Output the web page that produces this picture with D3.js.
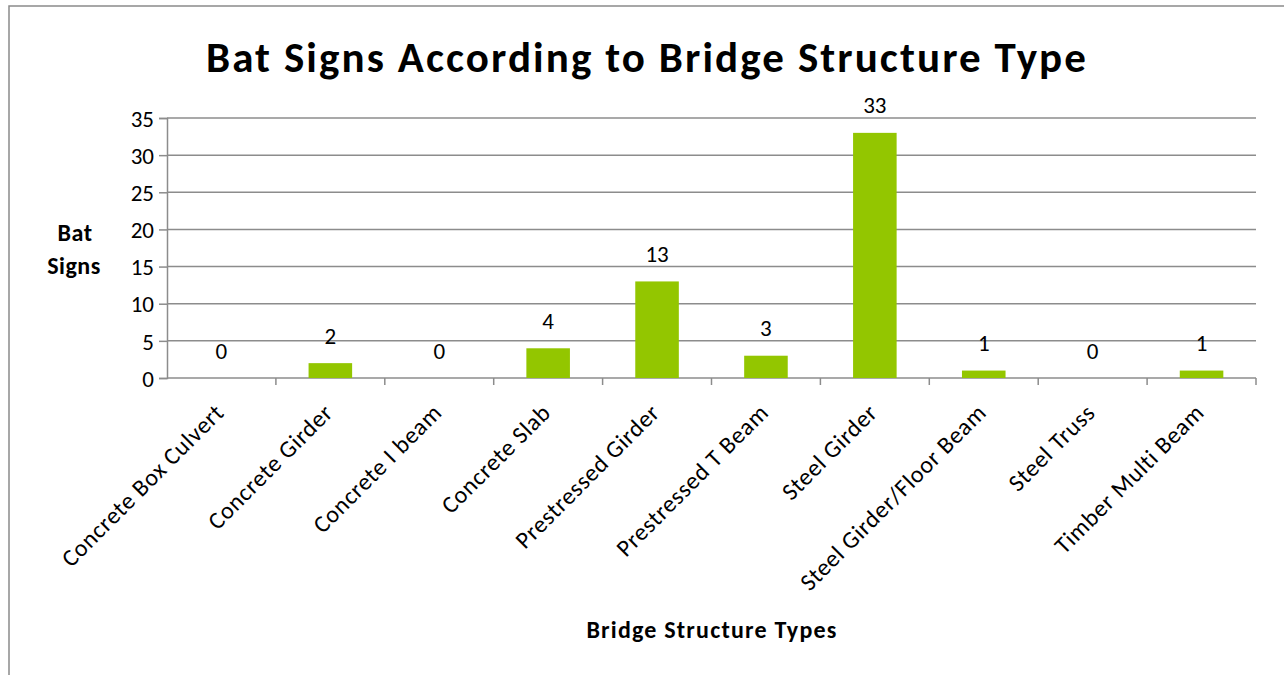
<!DOCTYPE html>
<html>
<head>
<meta charset="utf-8">
<script src="https://cdn.jsdelivr.net/npm/d3@7"></script>
<style>
  body { margin: 0; background: #fff; }
  text { font-family: Carlito, Lato, "Open Sans", sans-serif; fill: #000; }
</style>
</head>
<body>
<div class="chart-wrapper"></div>
<script>
const categories = ['Concrete Box Culvert', 'Concrete Girder', 'Concrete I beam', 'Concrete Slab',
  'Prestressed Girder', 'Prestressed T Beam', 'Steel Girder', 'Steel Girder/Floor Beam',
  'Steel Truss', 'Timber Multi Beam']
const batSigns = [0, 2, 0, 4, 13, 3, 33, 1, 0, 1]
const yTicks = [0, 5, 10, 15, 20, 25, 30, 35]

const width = 1284
const height = 675
const margin = {top: 118, right: 28, bottom: 297, left: 167}

const svg = d3.select('.chart-wrapper')
.append('svg')
.attr('width', width)
.attr('height', height)

// stretch a text to a given width with letter-spacing (Calibri is wider than Lato)
const fitWidth = (sel, target) => {
	const node = sel.node()
	const len = node.getComputedTextLength()
	const n = node.textContent.length
	if (n > 1) sel.attr('letter-spacing', (target - len) / (n - 1))
}

// chart frame
svg.append('rect')
.attr('x', 9)
.attr('y', 6)
.attr('width', width + 20)
.attr('height', height + 20)
.attr('fill', 'none')
.attr('stroke', '#8a8a8a')
.attr('stroke-width', 1.5)

const x = d3.scaleBand()
.domain(categories)
.range([margin.left, width - margin.right])
.paddingInner(0.6)
.paddingOuter(0.3)

const xCat = d3.scaleBand()
.domain(categories)
.range([margin.left, width - margin.right])

const y = d3.scaleLinear()
.domain([0, 35])
.range([height - margin.bottom, margin.top])

const grey = '#8c8c8c'

// gridlines
svg.append('g')
.selectAll('line')
.data(yTicks.filter(d => d > 0))
.enter()
.append('line')
.attr('x1', margin.left)
.attr('x2', width - margin.right)
.attr('y1', d => y(d))
.attr('y2', d => y(d))
.attr('stroke', grey)
.attr('stroke-width', 1.5)

// y axis
const yAxis = svg.append('g')
.attr('transform', `translate(${margin.left},0)`)
.call(d3.axisLeft(y).tickValues(yTicks).tickSize(8).tickPadding(5))

yAxis.select('.domain').attr('stroke', grey).attr('stroke-width', 1.5)
yAxis.selectAll('.tick line').attr('stroke', grey).attr('stroke-width', 1.5)
yAxis.selectAll('.tick text')
.attr('font-size', 23)
.attr('font-family', 'Lato, sans-serif')
.attr('fill', '#000')
.attr('dy', '0.36em')

// x axis (ticks between categories)
const x0 = y(0)
svg.append('line')
.attr('x1', margin.left)
.attr('x2', width - margin.right)
.attr('y1', x0)
.attr('y2', x0)
.attr('stroke', grey)
.attr('stroke-width', 1.5)

svg.append('g')
.selectAll('line')
.data(categories)
.enter()
.append('line')
.attr('x1', d => xCat(d) + xCat.bandwidth())
.attr('x2', d => xCat(d) + xCat.bandwidth())
.attr('y1', x0)
.attr('y2', x0 + 7)
.attr('stroke', grey)
.attr('stroke-width', 1.5)

svg.append('g')
.selectAll('text')
.data(categories)
.enter()
.append('text')
.attr('transform', d => `translate(${xCat(d) + xCat.bandwidth() / 2 + 4},${x0 + 36}) rotate(-45)`)
.attr('text-anchor', 'end')
.attr('font-size', 24)
.attr('letter-spacing', 0.7)
.text(d => d)

// bars
svg.append('g')
.selectAll('rect')
.data(batSigns)
.enter()
.append('rect')
.attr('x', (d, i) => x(categories[i]))
.attr('y', d => y(d))
.attr('width', x.bandwidth())
.attr('height', d => y(0) - y(d))
.attr('fill', '#93c600')

// value labels
svg.append('g')
.selectAll('text')
.data(batSigns)
.enter()
.append('text')
.attr('x', (d, i) => xCat(categories[i]) + xCat.bandwidth() / 2)
.attr('y', d => y(d) - 19.5)
.attr('text-anchor', 'middle')
.attr('font-size', 23)
.text(d => d)

// titles
const title = svg.append('text')
.attr('x', 647)
.attr('y', 72)
.attr('text-anchor', 'middle')
.attr('font-size', 43)
.attr('font-weight', 'bold')
.text('Bat Signs According to Bridge Structure Type')
fitWidth(title, 880)

const yTitle = svg.append('text')
.attr('text-anchor', 'middle')
.attr('font-size', 24)
.attr('font-weight', 'bold')

yTitle.append('tspan').attr('x', 75).attr('y', 241).attr('letter-spacing', 0.5).text('Bat')
yTitle.append('tspan').attr('x', 74).attr('y', 274).attr('letter-spacing', 0.5).text('Signs')

const xTitle = svg.append('text')
.attr('x', 712)
.attr('y', 638)
.attr('text-anchor', 'middle')
.attr('font-size', 24)
.attr('font-weight', 'bold')
.text('Bridge Structure Types')
fitWidth(xTitle, 250)
</script>
</body>
</html>
